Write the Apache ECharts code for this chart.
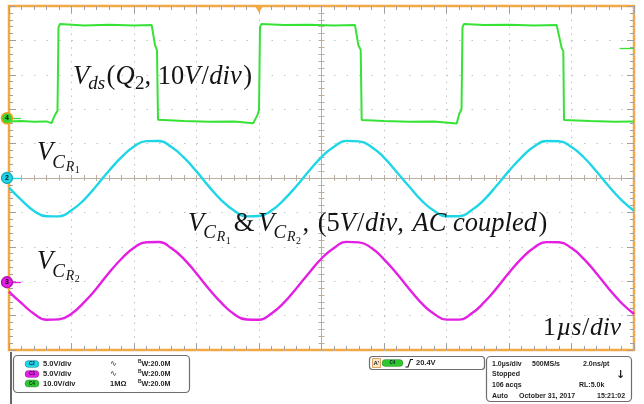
<!DOCTYPE html>
<html>
<head>
<meta charset="utf-8">
<script src="https://cdn.jsdelivr.net/npm/echarts@6/dist/echarts.min.js"></script>
<style>
  html, body { margin: 0; padding: 0; background: #fff; }
  #scope { width: 644px; height: 404px; }
</style>
</head>
<body>
<div id="scope"></div>
<script>
// ---- acquisition: 1 µs/div, 10 divisions across ----
const sampleTimes = [0, 0.2, 0.4, 0.6, 0.8, 1.0, 1.2, 1.4, 1.6, 1.8, 2.0, 2.2, 2.4, 2.6, 2.8, 3.0,
  3.2, 3.4, 3.6, 3.8, 4.0, 4.2, 4.4, 4.6, 4.8, 5.0, 5.2, 5.4, 5.6, 5.8, 6.0, 6.2,
  6.4, 6.6, 6.8, 7.0, 7.2, 7.4, 7.6, 7.8, 8.0, 8.2, 8.4, 8.6, 8.8, 9.0, 9.2, 9.4,
  9.6, 9.8, 10.0];

// CH2: resonant capacitor CR1 voltage (V, AC coupled)
const vcr1 = [-1.40, -3.21, -4.78, -5.55, -5.58, -4.70, -3.17, -1.12, 1.05, 3.02, 4.58, 5.36, 5.38, 4.49, 2.95, 0.96,
  -1.25, -3.24, -4.74, -5.58, -5.53, -4.73, -3.14, -1.16, 1.01, 3.05, 4.55, 5.39, 5.33, 4.52, 2.97, 0.92,
  -1.21, -3.25, -4.77, -5.56, -5.56, -4.69, -3.18, -1.13, 1.04, 3.01, 4.57, 5.37, 5.34, 4.50, 2.98, 0.95,
  -1.24, -3.22, -4.75];

// CH3: resonant capacitor CR2 voltage (V, AC coupled)
const vcr2 = [-1.35, -3.05, -4.58, -5.46, -5.40, -4.57, -2.93, -0.90, 1.38, 3.41, 5.02, 5.82, 5.85, 4.93, 3.37, 1.26,
  -0.98, -3.01, -4.62, -5.42, -5.45, -4.53, -2.97, -0.86, 1.34, 3.45, 4.98, 5.86, 5.80, 4.97, 3.33, 1.30,
  -0.94, -3.04, -4.59, -5.43, -5.44, -4.56, -2.94, -0.89, 1.37, 3.42, 5.01, 5.83, 5.81, 4.96, 3.36, 1.27,
  -0.97, -3.02, -4.61];

// CH4: drain-source voltage of Q2 (V)
const vdsTime = [0, 0.2, 0.4, 0.6, 0.68, 0.736, 0.776, 0.792, 0.816, 1.2, 1.6, 2.0, 2.283, 2.336, 2.368, 2.384, 2.41,
  2.8, 3.2, 3.6, 3.909, 3.976, 4.0, 4.016, 4.04, 4.4, 4.8, 5.2, 5.536, 5.589, 5.627, 5.643, 5.664,
  6.0, 6.4, 6.8, 7.163, 7.205, 7.24, 7.256, 7.28, 7.6, 8.0, 8.4, 8.763, 8.843, 8.869, 8.88, 8.912,
  9.3, 9.7, 10.0];
const vdsVolt = [-0.9, -0.8, -1.0, -0.9, -1.4, 1.0, 2.2, 26.5, 27.4, 27.0, 27.2, 27.0, 27.1, 21.3, 19.8, -0.4, -0.9,
  -0.8, -1.0, -0.9, -1.4, 1.0, 2.4, 26.5, 27.4, 27.1, 27.2, 27.0, 27.1, 21.3, 19.9, -0.5, -0.9,
  -0.8, -1.0, -0.9, -1.5, 1.4, 2.5, 26.5, 27.4, 27.1, 27.2, 27.0, 27.1, 20.4, 19.5, -0.5, -0.9,
  -0.8, -1.0, -0.9];

// vertical settings: V/div and ground-marker position (divisions above centre)
const voltsPerDiv = { ch2: 5, ch3: 5, ch4: 10 };
const groundDiv = { ch2: 0, ch3: -3.03, ch4: 1.735 };
const trigTime = 4.0;     // µs, trigger position
const trigLevel = 20.4;   // V on CH4

const GREEN = '#36e236', CYAN = '#1ed6e6', MAGENTA = '#e41fe4';
const ORANGE = '#f4a843', TICK = '#a0a0a0', DOT = '#c2c2c2', CROSS = '#b9ae9f';

function chAxis(ch) {
  return { type: 'value', show: false,
    min: (-5 - groundDiv[ch]) * voltsPerDiv[ch], max: (5 - groundDiv[ch]) * voltsPerDiv[ch] };
}
function pairs(xs, ys) { return xs.map((t, i) => [t, ys[i]]); }

// graticule axes (divisions)
function edgeAxis(pos, split) {
  return { type: 'value', min: -5, max: 5, interval: 1, position: pos,
    axisLine: { show: false, onZero: false },
    axisTick: { show: true, inside: true, length: 7, lineStyle: { color: TICK, width: 1 } },
    minorTick: { show: true, splitNumber: 5, length: 4, lineStyle: { color: TICK, width: 1 } },
    axisLabel: { show: false },
    splitLine: split ? { show: true, lineStyle: { color: DOT, width: 1, type: split } } : { show: false } };
}
function crossAxis(pos, inside) {
  return { type: 'value', min: -5, max: 5, interval: 1, position: pos,
    axisLine: { show: true, onZero: true, onZeroAxisIndex: 0, lineStyle: { color: CROSS, width: 1 } },
    axisTick: { show: true, inside: inside, length: 3, lineStyle: { color: CROSS, width: 1 } },
    minorTick: { show: true, splitNumber: 5, length: 3, lineStyle: { color: CROSS, width: 1 } },
    axisLabel: { show: false }, splitLine: { show: false } };
}

// channel ground marker (numbered disc)
function groundMarker(num, fill, ring) {
  return {
    markPoint: { silent: true, animation: false,
      data: [{ coord: [0, 0], symbol: 'circle', symbolSize: 11, symbolOffset: [-2, 0],
        itemStyle: { color: fill, borderColor: ring, borderWidth: 1.3 },
        label: { show: true, position: 'inside', formatter: num, color: '#111', fontSize: 7, fontWeight: 'bold', fontFamily: 'Liberation Sans' } }] }
  };
}
function groundArrow() {
  return [{ coord: [0.05, 0] }, { coord: [0.19, 0] }];
}

// ---- math-style annotations ----
const mctx = document.createElement('canvas').getContext('2d');
const SERIF = 'Liberation Serif';
function mathText(x0, base, parts) {
  const els = [];
  let x = x0;
  parts.forEach(p => {
    const [t, size, it, dy, kern] = p;
    x += kern || 0;
    els.push({ type: 'text', x: x, y: base + dy - 0.34 * size, z: 50, silent: true,
      style: { text: t, fontFamily: SERIF, fontSize: size, fontStyle: it ? 'italic' : 'normal',
        fill: '#141414', verticalAlign: 'middle', align: 'left' } });
    mctx.font = (it ? 'italic ' : '') + size + 'px "' + SERIF + '"';
    x += mctx.measureText(t).width;
  });
  return els;
}
const M = 26.5, S = 19, SS = 14, SSS = 10;
function vcr(n, lead) {
  return [['V', M, 1, 0, lead || 0], ['C', S, 1, 6.5, -1], ['R', SS, 1, 9.5, 0.8], [n, SSS, 0, 11.5, 0.5]];
}

// ---- status bar ----
const SB = { fontFamily: 'Liberation Sans', fontWeight: 'bold', fontSize: 7.5, fill: '#1e1e1e', verticalAlign: 'middle' };
function sbText(x, y, t, extra) {
  return { type: 'text', x: x, y: y, silent: true, style: Object.assign({ text: t }, SB, extra || {}) };
}
function pill(x, y, w, color, t) {
  return [
    { type: 'rect', silent: true, shape: { x: x, y: y - 3.6, width: w, height: 7.2, r: 3.6 },
      style: { fill: color, stroke: 'rgba(0,0,0,0.35)', lineWidth: 0.6 } },
    { type: 'text', silent: true, x: x + w / 2, y: y, style: { text: t, fontFamily: 'Liberation Sans', fontWeight: 'bold', fontSize: 4.5, fill: '#113', align: 'center', verticalAlign: 'middle' } }
  ];
}
function bw(x, y) {
  return [sbText(x, y - 2.2, 'B', { fontSize: 5 }), sbText(x + 3.4, y + 0.4, 'W:20.0M', { fontSize: 7.2 })];
}

const statusBar = [].concat(
  [{ type: 'line', silent: true, shape: { x1: 11, y1: 352, x2: 11, y2: 404 }, style: { stroke: '#333', lineWidth: 1.5 } },
   { type: 'rect', silent: true, shape: { x: 13.5, y: 355.5, width: 176, height: 37, r: 4 }, style: { fill: '#fff', stroke: '#6e6e6e', lineWidth: 1.2 } },
   { type: 'rect', silent: true, shape: { x: 369.5, y: 356.5, width: 115, height: 13, r: 3 }, style: { fill: '#fff', stroke: '#6e6e6e', lineWidth: 1.2 } },
   { type: 'rect', silent: true, shape: { x: 486.5, y: 356.5, width: 145, height: 45, r: 4 }, style: { fill: '#fff', stroke: '#6e6e6e', lineWidth: 1.2 } }],
  pill(25, 364, 14, CYAN, 'C2'), [sbText(43, 364, '5.0V/div'), sbText(110, 364, '∿', { fontWeight: 'normal', fontFamily: 'DejaVu Sans', fontSize: 8 })], bw(138, 364),
  pill(25, 374, 14, MAGENTA, 'C3'), [sbText(43, 374, '5.0V/div'), sbText(110, 374, '∿', { fontWeight: 'normal', fontFamily: 'DejaVu Sans', fontSize: 8 })], bw(138, 374),
  pill(25, 383.5, 14, '#2ec82e', 'C4'), [sbText(43, 383.5, '10.0V/div'), sbText(110, 383.5, '1MΩ')], bw(138, 383.5),
  [{ type: 'rect', silent: true, shape: { x: 372.5, y: 358.5, width: 8, height: 9 }, style: { fill: '#f6e7cc', stroke: '#d9913a', lineWidth: 0.8 } },
   sbText(373.5, 363, "A'", { fontSize: 6 })],
  pill(382, 363, 21, '#2ec82e', 'C4'),
  [{ type: 'polyline', silent: true, shape: { points: [[405.5, 367], [408, 367], [410.5, 359.5], [413, 359.5]] }, style: { stroke: '#111', lineWidth: 1.1, fill: null } },
   sbText(416, 363, '20.4V')],
  [sbText(492, 364, '1.0µs/div', { fontSize: 7 }), sbText(532, 364, '500MS/s', { fontSize: 7 }), sbText(583, 364, '2.0ns/pt', { fontSize: 7 }),
   sbText(492, 374.5, 'Stopped', { fontSize: 7 }), sbText(616, 375, '↓', { fontSize: 11, fontFamily: 'DejaVu Sans' }),
   sbText(492, 385, '106 acqs', { fontSize: 7 }), sbText(579, 385, 'RL:5.0k', { fontSize: 7 }),
   sbText(492, 396.5, 'Auto', { fontSize: 7 }), sbText(519, 396.5, 'October 31, 2017', { fontSize: 7 }), sbText(597, 396.5, '15:21:02', { fontSize: 7 })]
);

const annotations = [].concat(
  mathText(73, 86, [['V', M, 1, 0], ['ds', S, 1, 4, -1], ['(', M, 0, 0, 1.5], ['Q', M, 1, 0], ['2', S, 0, 4, 0.5],
    [', 10', M, 0, 0], ['V', M, 1, 0], ['/', M, 0, 0, 1], ['div', M, 1, 0, 0.5], [')', M, 0, 0, 1.5]]),
  mathText(37, 162.5, vcr('1')),
  mathText(37, 271.5, vcr('2')),
  mathText(188, 233, [].concat(vcr('1'), [['&', M, 0, 0, 3]], vcr('2', 4),
    [[',', M, 0, 0, 1.5], [' (5', M, 0, 0, 2], ['V', M, 1, 0], ['/', M, 0, 0, 1], ['div', M, 1, 0, 0.5], [',', M, 0, 0],
     [' AC', M, 1, 0, 2], [' coupled', M, 1, 0], [')', M, 0, 0, 1.5]])),
  mathText(543, 337, [['1', 25.5, 0, 0], ['µs', 25.5, 1, 0, 1], ['/', 25.5, 0, 0, 1], ['div', 25.5, 1, 0, 0.5]])
);

const chart = echarts.init(document.getElementById('scope'), null, { renderer: 'canvas' });
chart.setOption({
  animation: false,
  backgroundColor: '#fff',
  grid: { left: 9, top: 6, width: 625, height: 344, show: true, borderColor: ORANGE, borderWidth: 2.5, backgroundColor: '#fff' },
  xAxis: [
    edgeAxis('bottom', [1.5, 5.38]),
    edgeAxis('top', null),
    crossAxis('bottom', true),
    crossAxis('bottom', false),
    { type: 'value', show: false, min: 0, max: 10 }
  ],
  yAxis: [
    edgeAxis('left', [1.5, 11]),
    edgeAxis('right', null),
    crossAxis('left', true),
    crossAxis('left', false),
    chAxis('ch2'), chAxis('ch3'), chAxis('ch4')
  ],
  series: [
    Object.assign({ type: 'line', name: 'CH4 Vds', xAxisIndex: 4, yAxisIndex: 6, data: pairs(vdsTime, vdsVolt),
      showSymbol: false, silent: true, z: 5, lineStyle: { color: GREEN, width: 2 },
      markLine: { silent: true, animation: false, symbol: ['none', 'arrow'], symbolSize: [0, 6], label: { show: false },
        lineStyle: { color: GREEN, width: 1.3, type: 'solid' },
        data: [groundArrow(), [{ coord: [10, trigLevel] }, { coord: [9.77, trigLevel] }]] } },
      { markPoint: { silent: true, animation: false, data: [
        { coord: [0, 0], symbol: 'circle', symbolSize: 11, symbolOffset: [-2, 0],
          itemStyle: { color: '#2fd62f', borderColor: '#f0a020', borderWidth: 1.6 },
          label: { show: true, position: 'inside', formatter: '4', color: '#111', fontSize: 7, fontWeight: 'bold', fontFamily: 'Liberation Sans' } },
        { coord: [trigTime, (5 - groundDiv.ch4) * voltsPerDiv.ch4], symbol: 'triangle', symbolRotate: 180, symbolSize: [9, 7], symbolOffset: [0, 3],
          itemStyle: { color: ORANGE }, label: { show: false } }] } }),
    Object.assign({ type: 'line', name: 'CH2 VCR1', xAxisIndex: 4, yAxisIndex: 4, data: pairs(sampleTimes, vcr1),
      showSymbol: false, silent: true, smooth: 0.5, z: 4, lineStyle: { color: CYAN, width: 2.4 },
      markLine: { silent: true, animation: false, symbol: ['none', 'arrow'], symbolSize: [0, 6], label: { show: false },
        lineStyle: { color: CYAN, width: 1.3, type: 'solid' }, data: [groundArrow()] } },
      groundMarker('2', CYAN, '#14a8b8')),
    Object.assign({ type: 'line', name: 'CH3 VCR2', xAxisIndex: 4, yAxisIndex: 5, data: pairs(sampleTimes, vcr2),
      showSymbol: false, silent: true, smooth: 0.5, z: 4, lineStyle: { color: MAGENTA, width: 2.4 },
      markLine: { silent: true, animation: false, symbol: ['none', 'arrow'], symbolSize: [0, 6], label: { show: false },
        lineStyle: { color: MAGENTA, width: 1.3, type: 'solid' }, data: [groundArrow()] } },
      groundMarker('3', MAGENTA, '#b010b0'))
  ],
  graphic: annotations.concat(statusBar)
});
</script>
</body>
</html>
